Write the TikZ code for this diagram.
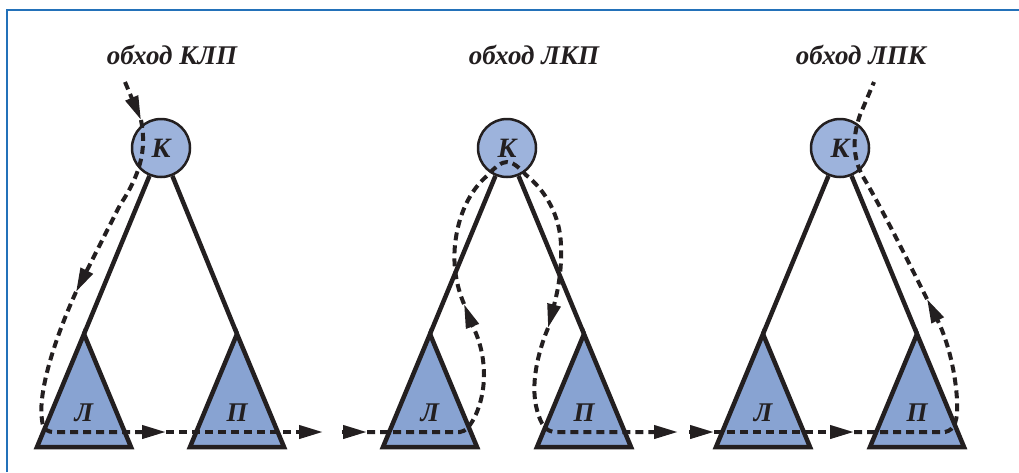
\documentclass[tikz,border=0pt]{standalone}
\usepackage{fontspec}
\setmainfont{Liberation Serif}
\usetikzlibrary{arrows.meta,positioning,calc}
\definecolor{framec}{HTML}{2371B9}
\definecolor{rootfill}{HTML}{9DB3DC}
\definecolor{subfill}{HTML}{88A3D2}
\definecolor{ink}{HTML}{231F20}

\begin{document}
\begin{tikzpicture}[x=1pt, y=-1pt,
    frame/.style ={draw=framec, line width=2pt},
    root/.style ={circle, draw=ink, line width=2.5pt, fill=rootfill, minimum size=58pt,
      inner sep=0pt, text=ink, font=\fontsize{28}{32}\selectfont\bfseries\itshape},
    subtree/.style ={draw=ink, line width=4.5pt, fill=subfill, line join=miter},
    branch/.style ={draw=ink, line width=4.5pt},
    caption/.style ={text=ink, font=\fontsize{27}{32}\selectfont\bfseries\itshape},
    sublabel/.style ={text=ink, font=\fontsize{27}{32}\selectfont\bfseries\itshape},
    walk/.style ={draw=ink, line width=4pt, dash pattern=on 8pt off 5pt},
    walkarrow/.style ={walk, -{Triangle[length=24pt,width=13pt]}}]
    \useasboundingbox (0,0) rectangle (1019,472);
    \draw[frame] (7,472) -- (7,10) -- (1019,10);
    % captions
    \node [caption] (cap1) at (172,55) {обход КЛП};
    \node [caption] (cap2) at (534,55) {обход ЛКП};
    \node [caption] (cap3) at (861,55) {обход ЛПК};
    % trees
    \node [root] (K1) at (161,148) {К};
    \node [root] (K2) at (507,148) {К};
    \node [root] (K3) at (840,148) {К};
    \coordinate (L1) at (84,334);  \coordinate (R1) at (237,334);
    \coordinate (L2) at (430,334); \coordinate (R2) at (584,334);
    \coordinate (L3) at (763,334); \coordinate (R3) at (917,334);
    \foreach \t in {1,2,3} {
      \draw[branch] (K\t) -- (L\t);
      \draw[branch] (K\t) -- (R\t);
      \draw[subtree] (L\t) -- ++(-47,113) -- ++(94,0) -- cycle;
      \draw[subtree] (R\t) -- ++(-47,113) -- ++(94,0) -- cycle;
      \node [sublabel] (l\t) at ($(L\t)+(0,79)$) {Л};
      \node [sublabel] (r\t) at ($(R\t)+(0,79)$) {П};
    }
    % walk K-L-P
    \draw[walkarrow] (125,82) -- (141,120);
    \draw[walkarrow] (141,120) .. controls (147,150) and (140,175) .. (120,205) -- (76,292);
    \draw[walkarrow] (76,292) .. controls (52,345) and (38,395) .. (42,420)
      .. controls (43,430) and (47,432) .. (55,432) -- (166,432);
    \draw[walkarrow] (166,432) -- (323,432);
    % walk L-K-P
    \draw[walkarrow] (342,432) -- (367,432);
    \draw[walkarrow] (367,432) -- (460,432) .. controls (470,432) and (484,405) .. (484,375)
      .. controls (484,345) and (472,325) .. (464,304);
    \draw[walkarrow] (464,304) .. controls (456,285) and (453,265) .. (455,245)
      .. controls (458,215) and (470,190) .. (488,175)
      .. controls (496,166) and (502,162) .. (507,162)
      .. controls (512,162) and (518,166) .. (526,175)
      .. controls (545,190) and (560,215) .. (561,245)
      .. controls (562,270) and (558,290) .. (548,328);
    \draw[walkarrow] (548,328) .. controls (538,352) and (530,385) .. (537,410)
      .. controls (541,425) and (546,432) .. (556,432) -- (678,432);
    % walk L-P-K
    \draw[walkarrow] (689,432) -- (714,432);
    \draw[walkarrow] (714,432) -- (854,432);
    \draw[walkarrow] (854,432) -- (945,432) .. controls (955,430) and (958,420) .. (957,400)
      .. controls (955,365) and (945,335) .. (927,299);
    \draw[walk] (927,299) .. controls (905,255) and (880,205) .. (862,175)
      .. controls (852,155) and (853,135) .. (860,115) -- (874,82);
\end{tikzpicture}
\end{document}
